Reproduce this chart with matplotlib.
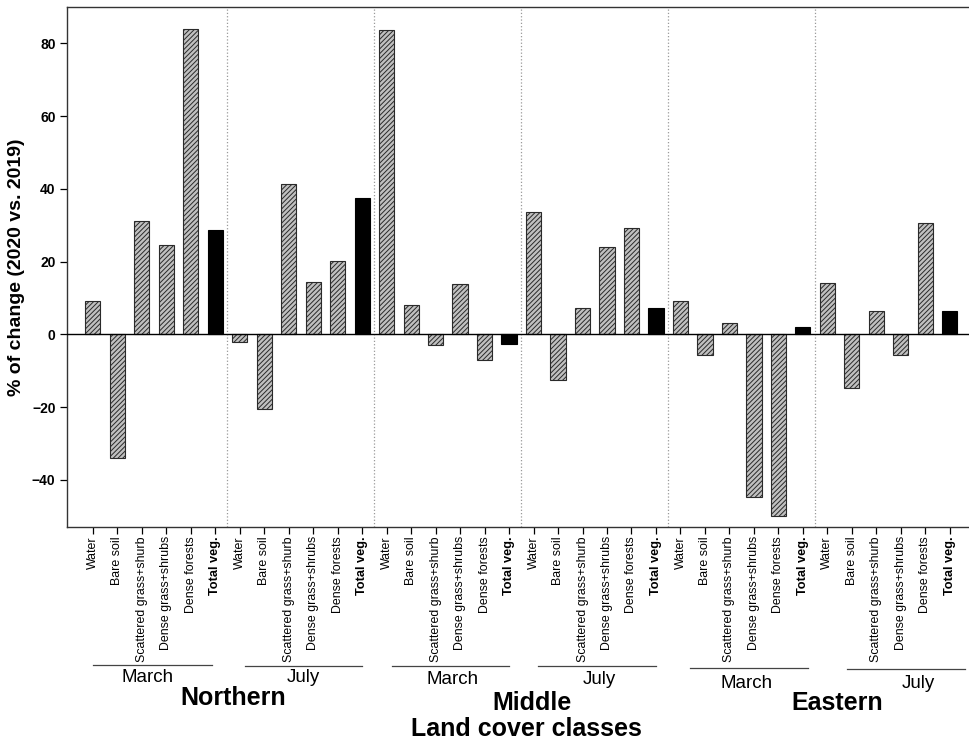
import numpy as np
import matplotlib
matplotlib.use("Agg")
import matplotlib.pyplot as plt
import matplotlib.transforms as mtransforms

plt.rcParams['font.family'] = ['Liberation Sans', 'DejaVu Sans']
plt.rcParams['hatch.linewidth'] = 0.7

# land cover classes (same order in every month block)
classes = ["Water", "Bare soil", "Scattered grass+shurb",
           "Dense grass+shrubs", "Dense forests", "Total veg."]
regions = ["Northern", "Middle", "Eastern"]
months = ["March", "July"]

# % of change (2020 vs. 2019)
northern_march = [9.2, -34.1, 31.2, 24.5, 83.9, 28.8]
northern_july = [-2.2, -20.5, 41.4, 14.4, 20.1, 37.5]
middle_march = [83.7, 8.0, -3.0, 13.9, -7.1, -2.8]
middle_july = [33.6, -12.5, 7.1, 24.0, 29.3, 7.3]
eastern_march = [9.1, -5.8, 3.2, -44.8, -50.0, 1.9]
eastern_july = [14.1, -14.8, 6.4, -5.8, 30.7, 6.4]

values = (northern_march + northern_july + middle_march + middle_july
          + eastern_march + eastern_july)
labels = classes * 6
x = np.arange(len(values))
is_total = np.array([lab == "Total veg." for lab in labels])

fig = plt.figure(figsize=(9.7, 7.45), dpi=100)
ax = fig.add_axes([0.0694, 0.2926, 0.93, 0.698])

# hatched bars for the classes, solid black for total vegetation
ax.bar(x[~is_total], np.array(values)[~is_total], width=0.62,
       color="#c0c0c0", edgecolor="#2a2a2a", hatch="///////", linewidth=0.8)
ax.bar(x[is_total], np.array(values)[is_total], width=0.62,
       color="black", edgecolor="black", linewidth=0.8)

ax.axhline(0, color="black", linewidth=1.0, zorder=3)
for sep in np.arange(5.5, len(values) - 1, 6):
    ax.axvline(sep, color="#999999", linestyle=":", linewidth=0.9, zorder=0)

ax.set_xlim(-1.04, 35.8)
ax.set_ylim(-53, 90)
ax.set_yticks([-40, -20, 0, 20, 40, 60, 80])
for lab in ax.get_yticklabels():
    lab.set_fontweight("bold")
ax.tick_params(axis="y", labelsize=10, length=5, width=0.9, direction="out")
ax.set_xticks(x)
ax.set_xticklabels(labels, rotation=90, fontsize=8.9)
ax.tick_params(axis="x", length=5, width=0.9, direction="out", pad=1.5)
for lab in ax.get_xticklabels():
    if lab.get_text() == "Total veg.":
        lab.set_fontweight("bold")
        lab.set_fontsize(9.2)

for side in ["left", "top", "bottom"]:
    ax.spines[side].set_color("#333333")
    ax.spines[side].set_linewidth(1.0)
ax.spines["right"].set_visible(False)

ax.set_ylabel("% of change (2020 vs. 2019)", fontsize=14, fontweight="bold",
              labelpad=5)

# month underlines and labels, region names below
trans = mtransforms.blended_transform_factory(ax.transData, fig.transFigure)
def fy(py):
    return 1 - py / 745.0

month_spans = [(0.0, 4.85), (6.2, 11.0), (12.2, 17.0),
               (18.2, 23.0), (24.4, 29.2), (30.8, 35.6)]
month_text_x = [2.23, 8.6, 14.7, 20.7, 26.7, 33.7]
line_y = [665, 666, 666, 666, 668, 669]
text_y = [678, 678, 680, 680, 683, 684]
for k, (a, b) in enumerate(month_spans):
    ax.plot([a, b], [fy(line_y[k])] * 2, transform=trans, color="#444444",
            linewidth=0.9, clip_on=False)
    ax.text(month_text_x[k], fy(text_y[k]), months[k % 2], transform=trans,
            ha="center", va="center", fontsize=13.5)

region_x = [5.73, 17.95, 30.4]
region_y = [698, 703, 703]
for r, rx, ry in zip(regions, region_x, region_y):
    ax.text(rx, fy(ry), r, transform=trans, ha="center", va="center",
            fontsize=18, fontweight="bold")

ax.text(17.7, fy(729), "Land cover classes", transform=trans, ha="center",
        va="center", fontsize=18, fontweight="bold")

fig.savefig("out.png", dpi=100)
